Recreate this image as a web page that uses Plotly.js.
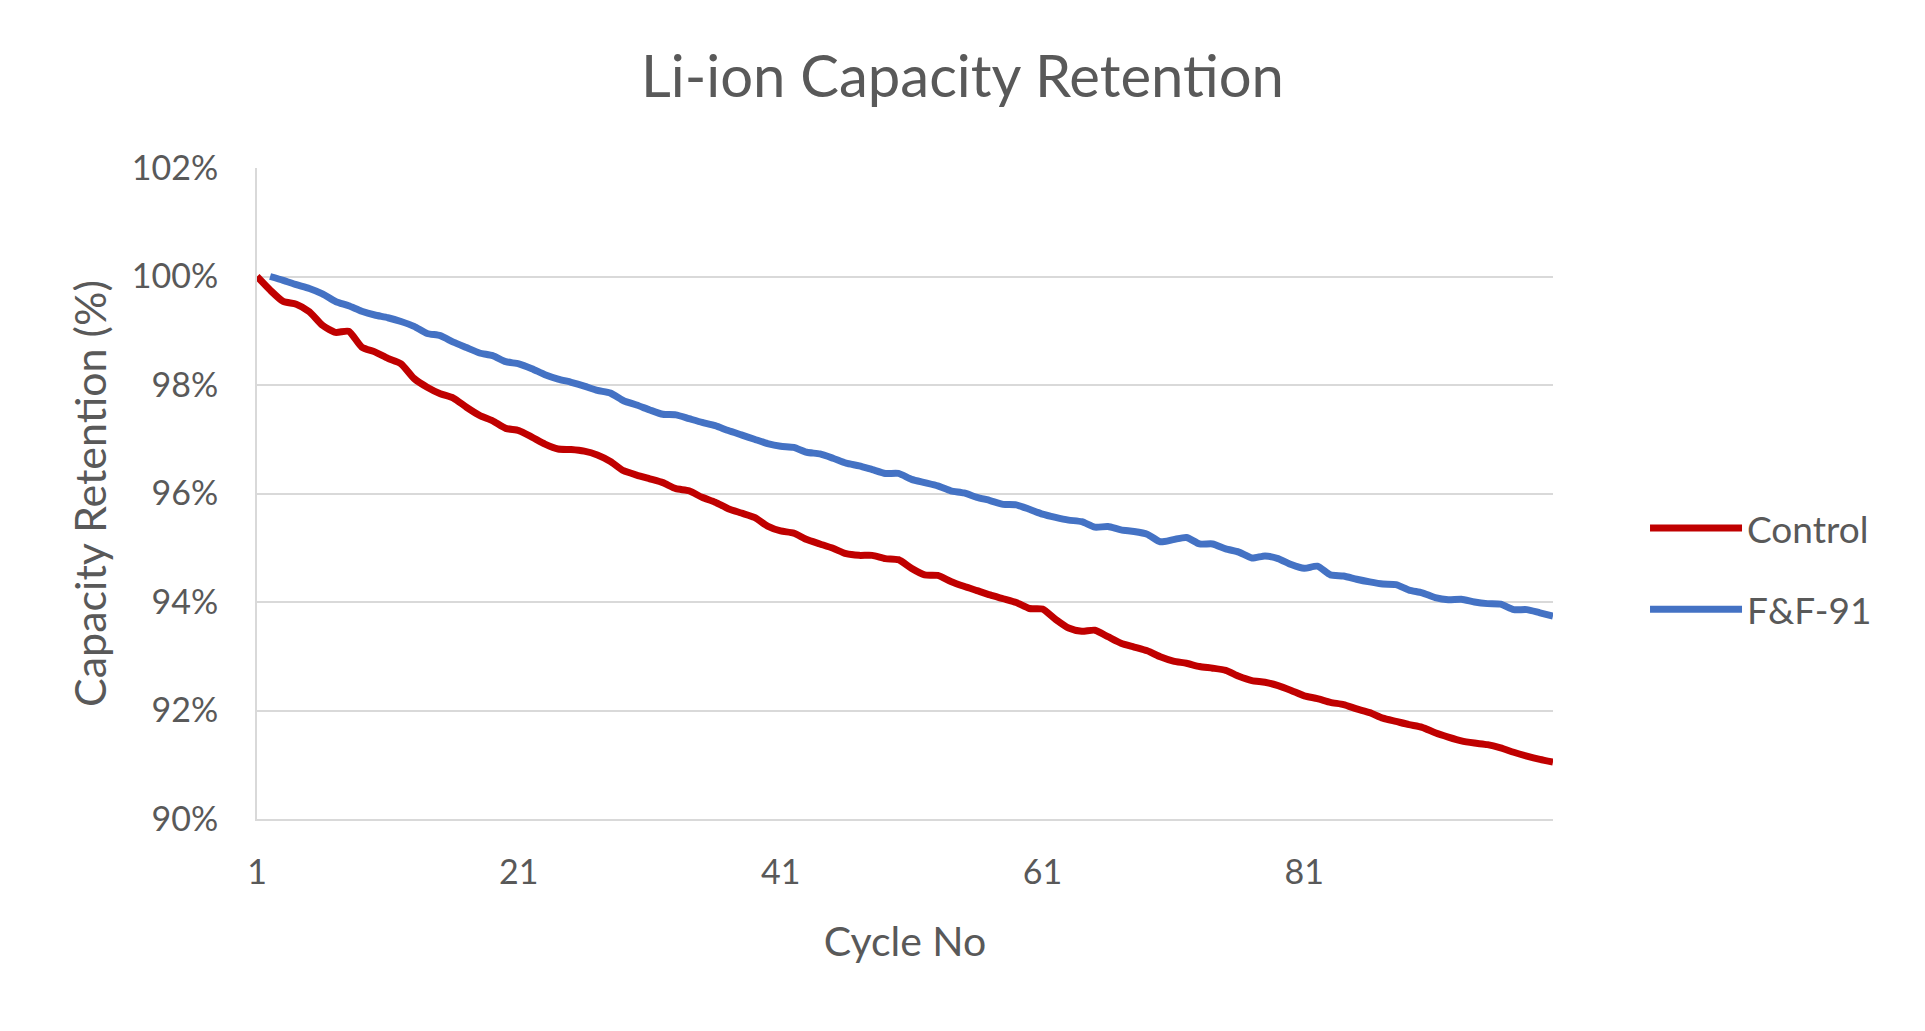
<!DOCTYPE html>
<html>
<head>
<meta charset="utf-8">
<script src="https://cdn.plot.ly/plotly-3.0.1.min.js"></script>
<style>html,body{margin:0;padding:0;background:#fff;}#chart{width:1925px;height:1031px;}</style>
</head>
<body>
<div id="chart"></div>
<script>
const controlCycles = [1,2,3,4,5,6,7,8,9,10,11,12,13,14,15,16,17,18,19,20,21,22,23,24,25,26,27,28,29,30,31,32,33,34,35,36,37,38,39,40,41,42,43,44,45,46,47,48,49,50,51,52,53,54,55,56,57,58,59,60,61,62,63,64,65,66,67,68,69,70,71,72,73,74,75,76,77,78,79,80,81,82,83,84,85,86,87,88,89,90,91,92,93,94,95,96,97,98,99,100];
const controlValues = [100.00,99.75,99.54,99.49,99.35,99.10,98.97,98.99,98.70,98.61,98.49,98.39,98.12,97.96,97.84,97.76,97.59,97.44,97.34,97.20,97.16,97.04,96.91,96.82,96.81,96.78,96.71,96.59,96.42,96.34,96.27,96.20,96.09,96.05,95.93,95.84,95.72,95.64,95.56,95.40,95.31,95.27,95.15,95.07,94.99,94.89,94.86,94.86,94.80,94.78,94.62,94.50,94.49,94.38,94.29,94.21,94.13,94.06,93.99,93.88,93.87,93.68,93.52,93.46,93.48,93.36,93.24,93.17,93.10,92.99,92.91,92.87,92.81,92.78,92.74,92.63,92.55,92.52,92.46,92.37,92.27,92.22,92.15,92.11,92.03,91.96,91.86,91.80,91.74,91.69,91.59,91.51,91.44,91.40,91.37,91.31,91.23,91.16,91.10,91.05];
const ffCycles = [2,3,4,5,6,7,8,9,10,11,12,13,14,15,16,17,18,19,20,21,22,23,24,25,26,27,28,29,30,31,32,33,34,35,36,37,38,39,40,41,42,43,44,45,46,47,48,49,50,51,52,53,54,55,56,57,58,59,60,61,62,63,64,65,66,67,68,69,70,71,72,73,74,75,76,77,78,79,80,81,82,83,84,85,86,87,88,89,90,91,92,93,94,95,96,97,98,99,100];
const ffValues = [100.00,99.93,99.85,99.78,99.68,99.54,99.46,99.36,99.29,99.24,99.17,99.08,98.95,98.91,98.79,98.69,98.59,98.54,98.43,98.39,98.30,98.19,98.11,98.05,97.98,97.90,97.85,97.71,97.63,97.54,97.46,97.45,97.38,97.31,97.25,97.16,97.08,97.00,96.92,96.87,96.85,96.76,96.73,96.65,96.56,96.51,96.44,96.37,96.37,96.26,96.20,96.14,96.05,96.01,95.93,95.87,95.80,95.79,95.71,95.62,95.56,95.51,95.48,95.38,95.39,95.33,95.30,95.25,95.11,95.15,95.19,95.07,95.07,94.98,94.92,94.81,94.85,94.80,94.69,94.62,94.66,94.50,94.48,94.42,94.37,94.33,94.32,94.22,94.17,94.08,94.04,94.05,94.00,93.97,93.96,93.86,93.86,93.80,93.74];
const xTickVals = [1,21,41,61,81];
const xTickText = ['1','21','41','61','81'];
const yTickVals = [90,92,94,96,98,100,102];
const yTickText = ['90%','92%','94%','96%','98%','100%','102%'];

const FONT = 'Lato, "Open Sans", sans-serif';
const TXT = '#595959';

const traces = [
  {x: controlCycles, y: controlValues, name: 'Control', legendgroup: 'a', type: 'scatter', mode: 'lines',
   line: {color: '#C00000', width: 7, shape: 'spline', smoothing: 0.6}},
  {x: ffCycles, y: ffValues, name: 'F&F-91', legendgroup: 'b', type: 'scatter', mode: 'lines',
   line: {color: '#4472C4', width: 7, shape: 'spline', smoothing: 0.6}}
];

const layout = {
  width: 1925, height: 1031,
  paper_bgcolor: '#fff', plot_bgcolor: '#fff',
  font: {family: FONT, color: TXT, size: 34},
  margin: {l: 257, r: 372, t: 168, b: 212},
  title: {text: 'Li-ion Capacity Retention', font: {family: FONT, size: 58, color: TXT},
          xref: 'container', x: 0.5, xanchor: 'center', yref: 'container', y: 0.926, yanchor: 'middle'},
  xaxis: {range: [1, 100], tickmode: 'array', tickvals: xTickVals, ticktext: xTickText,
          showgrid: false, zeroline: false, showline: true, linecolor: '#d9d9d9', linewidth: 2,
          ticks: '', ticklabelstandoff: 22, tickfont: {size: 34, color: TXT, family: FONT},
          title: {text: 'Cycle No', font: {size: 41, color: TXT, family: FONT}, standoff: 38}},
  yaxis: {range: [90, 102], tickmode: 'array', tickvals: yTickVals, ticktext: yTickText,
          showgrid: true, gridcolor: '#d9d9d9', gridwidth: 2, zeroline: false,
          showline: true, linecolor: '#d9d9d9', linewidth: 2,
          ticks: '', ticklabelstandoff: 30, tickfont: {size: 34, color: TXT, family: FONT},
          title: {text: 'Capacity Retention (%)', font: {size: 43, color: TXT, family: FONT}, standoff: 12}},
  legend: {x: 1.071, xanchor: 'left', y: 0.384, yanchor: 'middle', traceorder: 'grouped',
           font: {size: 37, color: TXT, family: FONT}, tracegroupgap: 30, itemwidth: 92,
           bgcolor: 'rgba(0,0,0,0)'},
  showlegend: true
};

Plotly.newPlot('chart', traces, layout, {displayModeBar: false, staticPlot: true});
</script>
</body>
</html>
